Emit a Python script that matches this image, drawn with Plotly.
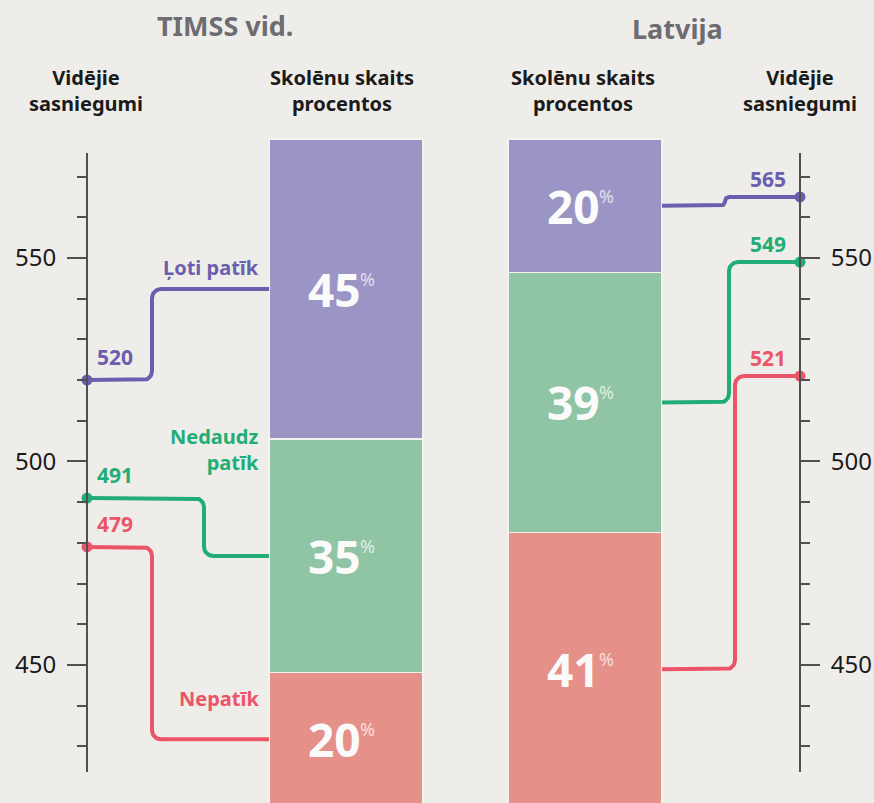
import numpy as np
import plotly.graph_objects as go

# --- data -------------------------------------------------------------
categories = ["Ļoti patīk", "Nedaudz<br>patīk", "Nepatīk"]
timss_pct = [45, 35, 20]
latvia_pct = [20, 39, 41]
timss_score = [520, 491, 479]
latvia_score = [565, 549, 521]
score_ticks = [450, 500, 550]

# --- styling / geometry ----------------------------------------------
W, H = 874, 803
BG = "#efede9"
bar_colors = ["#9b95c5", "#8fc4a5", "#e6908a"]
line_colors = ["#6a5fae", "#22ad76", "#ea5568"]
FONT = "Noto Sans, Open Sans, sans-serif"

score_range = [423.7, 575.8]
score_domain = [(H - 772) / H, (H - 153) / H]
pct_range = [0.45, 120.84]
left_axis_x, right_axis_x = 87, 800
left_bar_x, right_bar_x = 346, 585
bar_w = 154
step_x_left = [152, 204, 152]
step_x_right = [725, 729, 735]

px_per_score = (score_domain[1] - score_domain[0]) * H / (score_range[1] - score_range[0])


def pct_to_score(p):
    # position on the (full height) percent axis -> same height on the score axis
    frac = (p - pct_range[0]) / (pct_range[1] - pct_range[0])
    f = (frac - score_domain[0]) / (score_domain[1] - score_domain[0])
    return score_range[0] + f * (score_range[1] - score_range[0])


def seg_centers(vals):
    # stacked from the bottom: last category sits at the bottom
    out = []
    for i, v in enumerate(vals):
        base = sum(vals[i + 1:])
        out.append(base + v / 2)
    return out


def step_path(x0, y0, xs, x1, y1, r=9):
    dx = 1 if x1 > x0 else -1
    dy_px = abs(y1 - y0) * px_per_score
    r = min(r, dy_px / 2)
    dy = np.sign(y1 - y0) * r / px_per_score
    t = np.linspace(0, np.pi / 2, 12)
    xa = xs - r * dx + r * dx * np.sin(t)
    ya = y0 + dy * (1 - np.cos(t))
    xb = xs + r * dx * (1 - np.cos(t))
    yb = y1 - dy + dy * np.sin(t)
    xx = [x0] + list(xa) + list(xb) + [x1]
    yy = [y0] + list(ya) + list(yb) + [y1]
    return xx, yy


def py(px):
    return 1 - px / H


fig = go.Figure()

# stacked bars (bottom category first)
for i in reversed(range(len(categories))):
    fig.add_trace(go.Bar(
        x=[left_bar_x, right_bar_x], y=[timss_pct[i], latvia_pct[i]],
        width=bar_w, marker=dict(color=bar_colors[i], line=dict(color="#f4f2ee", width=1.5)),
        hoverinfo="skip", xaxis="x", yaxis="y"))

timss_c = seg_centers(timss_pct)
latvia_c = seg_centers(latvia_pct)

annotations = []
for i in range(len(categories)):
    # left connectors: axis -> TIMSS bar
    xx, yy = step_path(left_axis_x, timss_score[i], step_x_left[i],
                       left_bar_x - bar_w / 2, pct_to_score(timss_c[i]))
    fig.add_trace(go.Scatter(x=xx, y=yy, mode="lines", line=dict(color=line_colors[i], width=4),
                             hoverinfo="skip", xaxis="x", yaxis="y2"))
    fig.add_trace(go.Scatter(x=[left_axis_x], y=[timss_score[i]], mode="markers",
                             marker=dict(color=line_colors[i], size=11),
                             hoverinfo="skip", xaxis="x", yaxis="y2"))
    # right connectors: Latvia bar -> axis
    xx, yy = step_path(right_bar_x + bar_w / 2, pct_to_score(latvia_c[i]), step_x_right[i],
                       right_axis_x, latvia_score[i])
    fig.add_trace(go.Scatter(x=xx, y=yy, mode="lines", line=dict(color=line_colors[i], width=4),
                             hoverinfo="skip", xaxis="x", yaxis="y3"))
    fig.add_trace(go.Scatter(x=[right_axis_x], y=[latvia_score[i]], mode="markers",
                             marker=dict(color=line_colors[i], size=11),
                             hoverinfo="skip", xaxis="x", yaxis="y3"))

    # score labels
    annotations.append(dict(x=left_axis_x + 8, y=timss_score[i], xref="x", yref="y2",
                            text=f"<b>{timss_score[i]}</b>", showarrow=False, xanchor="left",
                            yanchor="middle", yshift=23,
                            font=dict(size=21, color=line_colors[i], family=FONT)))
    annotations.append(dict(x=right_axis_x - 12, y=latvia_score[i], xref="x", yref="y3",
                            text=f"<b>{latvia_score[i]}</b>", showarrow=False, xanchor="right",
                            yanchor="middle", yshift=18,
                            font=dict(size=21, color=line_colors[i], family=FONT)))

    # percent labels inside bars: big number + small "%"
    for bx, vals, cs in [(left_bar_x, timss_pct, timss_c), (right_bar_x, latvia_pct, latvia_c)]:
        annotations.append(dict(
            x=bx + 17, y=cs[i], xref="x", yref="y", xanchor="right", yanchor="middle",
            text=f"<b>{vals[i]}</b>", showarrow=False,
            font=dict(size=46, color="#fbfbfb", family=FONT)))
        annotations.append(dict(
            x=bx + 12, y=cs[i], xref="x", yref="y", xanchor="left", yanchor="middle",
            yshift=10, text="%", showarrow=False,
            font=dict(size=18, color="rgba(255,255,255,0.72)", family=FONT)))

# category labels on the left
cat_pos = [267, 449, 698]
for i, c in enumerate(categories):
    annotations.append(dict(x=261, y=py(cat_pos[i]), xref="x", yref="paper", text=f"<b>{c}</b>",
                            showarrow=False, xanchor="right", yanchor="middle", align="right",
                            font=dict(size=20, color=line_colors[i], family=FONT)))

# headers
hdr = dict(showarrow=False, xref="x", yref="paper", align="center", yanchor="middle")
hfont = dict(size=20, color="#1a1a1a", family=FONT)
annotations += [
    dict(hdr, x=225, y=py(25), text="<b>TIMSS vid.</b>", font=dict(size=27, color="#6d6c72", family=FONT)),
    dict(hdr, x=677, y=py(28), text="<b>Latvija</b>", font=dict(size=27, color="#6d6c72", family=FONT)),
    dict(hdr, x=86, y=py(90), text="<b>Vidējie<br>sasniegumi</b>", font=hfont),
    dict(hdr, x=342, y=py(90), text="<b>Skolēnu skaits<br>procentos</b>", font=hfont),
    dict(hdr, x=583, y=py(90), text="<b>Skolēnu skaits<br>procentos</b>", font=hfont),
    dict(hdr, x=800, y=py(90), text="<b>Vidējie<br>sasniegumi</b>", font=hfont),
]

score_axis = dict(range=score_range, domain=score_domain, anchor="free", showline=True,
                  linecolor="#505050", linewidth=2, ticks="outside", ticklen=19, tickwidth=2,
                  tickcolor="#505050", tickmode="array", tickvals=score_ticks,
                  ticklabelstandoff=6,
                  minor=dict(dtick=10, tick0=score_ticks[0], ticks="outside", ticklen=9,
                             tickwidth=2, tickcolor="#505050"),
                  showgrid=False, zeroline=False, fixedrange=True,
                  tickfont=dict(size=24, color="#1a1a1a", family=FONT))

fig.update_layout(
    width=W, height=H, margin=dict(l=0, r=0, t=0, b=0, pad=0),
    paper_bgcolor=BG, plot_bgcolor="rgba(0,0,0,0)", showlegend=False, barmode="stack",
    xaxis=dict(range=[0, W], domain=[0, 1], visible=False, fixedrange=True),
    yaxis=dict(range=pct_range, domain=[0, 1], visible=False, fixedrange=True),
    yaxis2=dict(score_axis, side="left", position=left_axis_x / W),
    yaxis3=dict(score_axis, side="right", position=right_axis_x / W, overlaying="y2"),
    annotations=annotations,
)

fig.write_html("out.html", config={"displayModeBar": False},
               post_script="document.body.style.margin='0px';")
